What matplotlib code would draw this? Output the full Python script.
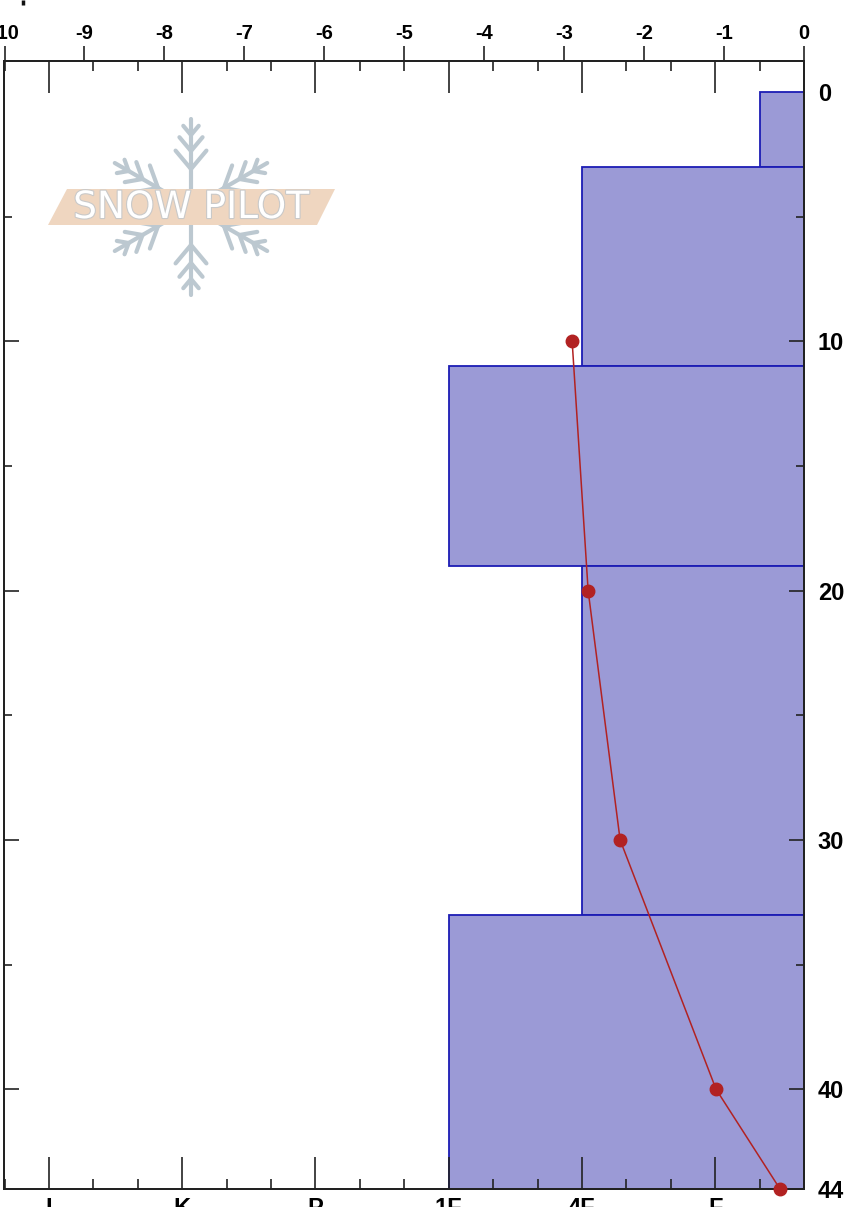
import matplotlib
matplotlib.use("Agg")
import matplotlib.pyplot as plt
import numpy as np
from matplotlib.patches import Polygon
import matplotlib.patheffects as pe
from matplotlib.ticker import FixedLocator, FixedFormatter

# ---------------- data ----------------
temp_depth = [10, 20, 30, 40, 44]
temp_values = [-2.9, -2.7, -2.3, -1.1, -0.3]

layer_top = [0, 3, 11, 19, 33]
layer_bottom = [3, 11, 19, 33, 44]
layer_hardness = ["F-", "4F", "1F", "4F", "1F"]

hardness_grades = ["F", "4F", "1F", "P", "K", "I"]
hardness_tick_labels = ["I", "K", "P", "1F", "4F", "F"]
temp_ticks = [-10, -9, -8, -7, -6, -5, -4, -3, -2, -1, 0]
depth_ticks = [0, 10, 20, 30, 40, 44]
depth_minor_ticks = [5, 15, 25, 35]


def hardness_value(code):
    mod = 0
    base = code
    if code.endswith("-"):
        mod, base = -1, code[:-1]
    elif code.endswith("+"):
        mod, base = 1, code[:-1]
    i = hardness_grades.index(base)
    return (3 * i + 2 + mod) / 3.0


plt.rcParams["font.family"] = ["Liberation Sans", "DejaVu Sans"]
plt.rcParams["font.weight"] = "bold"
plt.rcParams["axes.unicode_minus"] = False

W_PX, H_PX = 854, 1207
fig = plt.figure(figsize=(W_PX / 100, H_PX / 100), dpi=100)

x0, x1 = 4.5, 804.0
y_top, y_bot = 61.0, 1189.0
ax = fig.add_axes([x0 / W_PX, 1 - y_bot / H_PX, (x1 - x0) / W_PX, (y_bot - y_top) / H_PX])
axh = ax.twiny()

spine_col = "#222222"

# ---- hardness bars ----
widths = [hardness_value(h) for h in layer_hardness]
heights = np.subtract(layer_bottom, layer_top)
axh.barh(layer_top, widths, height=heights, left=0, align="edge",
         color="#9b9ad6", edgecolor="#1c1cb4", linewidth=1.3, zorder=1)
axh.set_xlim(6, 0)
axh.xaxis.tick_bottom()
hard_major = [hardness_value(g) for g in hardness_grades[::-1]]
axh.xaxis.set_major_locator(FixedLocator(hard_major))
axh.xaxis.set_major_formatter(FixedFormatter(hardness_tick_labels))
axh.xaxis.set_minor_locator(FixedLocator([i / 3.0 for i in range(0, 19)]))
axh.tick_params(axis="x", which="both", direction="in", top=True, bottom=True,
                labeltop=False, labelbottom=True, color=spine_col, width=1.2)
axh.tick_params(axis="x", which="major", length=23, labelsize=17, pad=6)
axh.tick_params(axis="x", which="minor", length=7)
for s in axh.spines.values():
    s.set_color(spine_col)
    s.set_linewidth(1.4)

# ---- temperature profile ----
ax.set_zorder(axh.get_zorder() + 1)
ax.patch.set_visible(False)
ax.plot(temp_values, temp_depth, color="#b22222", lw=1.1, marker="o", ms=9,
        clip_on=False, zorder=5)
ax.set_xlim(-10, 0)
ax.set_ylim(44, -1.24)
ax.xaxis.tick_top()
ax.set_xticks(temp_ticks)
ax.set_xticklabels([str(t) for t in temp_ticks])
ax.tick_params(axis="x", which="major", direction="out", top=True, bottom=False,
               labeltop=True, labelbottom=False, length=11, width=1.2,
               color=spine_col, labelsize=14.5, pad=2)
ax.tick_params(axis="x", which="minor", top=False, bottom=False)

ax.set_yticks(depth_ticks)
ax.set_yticklabels([str(d) for d in depth_ticks])
ax.set_yticks(depth_minor_ticks, minor=True)
ax.tick_params(axis="y", which="both", direction="in", left=True, right=True,
               labelleft=False, labelright=True, color=spine_col, width=1.2)
ax.tick_params(axis="y", which="major", length=10.5, labelsize=17, pad=10)
ax.tick_params(axis="y", which="minor", length=6)
for t in ax.yaxis.get_major_ticks()[:1]:
    t.tick1line.set_visible(False)
    t.tick2line.set_visible(False)
for s in ax.spines.values():
    s.set_color(spine_col)
    s.set_linewidth(1.4)

# ---------------- logo overlay ----------------
lax = fig.add_axes([0, 0, 1, 1])
lax.set_xlim(0, W_PX)
lax.set_ylim(H_PX, 0)
lax.axis("off")
lax.patch.set_visible(False)
lax.set_zorder(-1)

flake_col = "#bcc8d0"
cx, cy, L = 191, 207, 88
for ang in [90, 30, -30, -90, -150, 150]:
    a = np.deg2rad(ang)
    ux, uy = np.cos(a), -np.sin(a)
    lax.plot([cx, cx + L * ux], [cy, cy + L * uy], color=flake_col, lw=3,
             solid_capstyle="round")
    for r, bl in [(38, 24), (56, 18), (72, 12)]:
        px, py = cx + r * ux, cy + r * uy
        for side in (1, -1):
            b = a + side * np.deg2rad(40)
            lax.plot([px, px + bl * np.cos(b)], [py, py - bl * np.sin(b)],
                     color=flake_col, lw=3, solid_capstyle="round")

band = Polygon([[48, 225], [67, 189], [335, 189], [317, 225]], closed=True,
               facecolor="#efd6c0", edgecolor="none", zorder=3)
lax.add_patch(band)
lax.text(191, 208, "SNOW PILOT", color="white", fontsize=27, ha="center",
         va="center", family="DejaVu Sans", weight="normal", zorder=4,
         path_effects=[pe.withStroke(linewidth=1.6, foreground="#c9c9c9")])

lax.plot([23, 23], [0, 5], color="#111111", lw=2.5, solid_capstyle="butt")

fig.savefig("out.png", dpi=100)
